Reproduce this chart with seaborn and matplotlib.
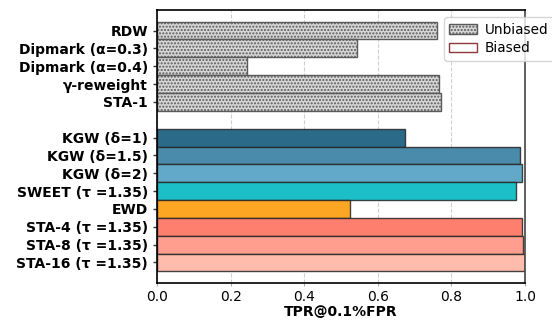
import pandas as pd
import matplotlib.pyplot as plt
import seaborn as sns
from matplotlib.patches import Patch

# ---------------------------
# Data
# ---------------------------
unbiased_methods = ['RDW', 'Dipmark (α=0.3)', 'Dipmark (α=0.4)', 'γ-reweight', 'STA-1']
unbiased_tpr = [0.761, 0.543, 0.245, 0.766, 0.772]

biased_methods = ['KGW (δ=1)', 'KGW (δ=1.5)', 'KGW (δ=2)', 'SWEET (τ =1.35)', 'EWD',
                  'STA-4 (τ =1.35)', 'STA-8 (τ =1.35)', 'STA-16 (τ =1.35)']
biased_tpr = [0.674, 0.986, 0.992, 0.976, 0.524, 0.992, 0.995, 1.0]

unbiased_color = '#d6d6d6'
biased_colors = ['#2c6a8a', '#4a8aab', '#62a8c8', '#1cbfc8', '#fca623',
                 '#ff7f6e', '#ff9e8e', '#ffbcac']

gap = ' '
order = unbiased_methods + [gap] + biased_methods
df = pd.DataFrame({'method': unbiased_methods + biased_methods,
                   'tpr': unbiased_tpr + biased_tpr})
palette = dict(zip(unbiased_methods, [unbiased_color] * len(unbiased_methods)))
palette.update(dict(zip(biased_methods, biased_colors)))

# ---------------------------
# Plot
# ---------------------------
sns.set_style('white')
plt.rcParams['font.family'] = ['DejaVu Sans']
plt.rcParams['hatch.linewidth'] = 1.0
for key in ['text.color', 'axes.labelcolor', 'xtick.color', 'ytick.color']:
    plt.rcParams[key] = 'black'

fig = plt.figure(figsize=(5.52, 3.2), dpi=100)
ax = fig.add_axes([0.2844, 0.1156, 0.6667, 0.8531])

sns.barplot(data=df, x='tpr', y='method', hue='method', order=order, hue_order=order[:5] + order[6:],
            palette=palette, legend=False, width=1.0, saturation=1, ax=ax)

for p in ax.patches:
    fc = p.get_facecolor()
    if abs(fc[0] - 0.84) < 0.01 and abs(fc[1] - 0.84) < 0.01:
        p.set_hatch('.....')
        p.set_edgecolor('#5a5a5a')
        p.set_linewidth(1.0)
    else:
        p.set_edgecolor((0.15, 0.15, 0.15, 0.85))
        p.set_linewidth(1.0)

ax.set_xlim(0, 1.0)
ax.set_ylim(13.5 + 0.65, -0.5 - 0.65)
ticks = [i for i, m in enumerate(order) if m != gap]
ax.set_yticks(ticks)
ax.set_yticklabels([order[i] for i in ticks], fontsize=10, fontweight='bold')
ax.tick_params(axis='y', length=3, width=1, left=True, color='#333333')
ax.tick_params(axis='x', labelsize=10, length=2, width=0.8, bottom=True, color='#aaaaaa', pad=3)
ax.set_xlabel('TPR@0.1%FPR', fontsize=10, fontweight='bold', labelpad=1)
ax.set_ylabel('')
ax.xaxis.grid(True, linestyle='--', color='#d0d0d0', linewidth=0.8)
ax.set_axisbelow(True)
for s in ax.spines.values():
    s.set_visible(True)
    s.set_color('black')
    s.set_linewidth(1.2)
ax.spines['right'].set_color('#444444')

handles = [Patch(facecolor=unbiased_color, edgecolor='#5a5a5a', hatch='.....', label='Unbiased'),
           Patch(facecolor='white', edgecolor='#8b3a3a', label='Biased')]
ax.legend(handles=handles, loc='upper left', bbox_to_anchor=(0.78, 0.974), borderaxespad=0,
          fontsize=9.8, labelspacing=0.35, handletextpad=0.6, frameon=True, framealpha=0.8,
          handlelength=2.0)

plt.savefig('out.png', dpi=100)
plt.close()
